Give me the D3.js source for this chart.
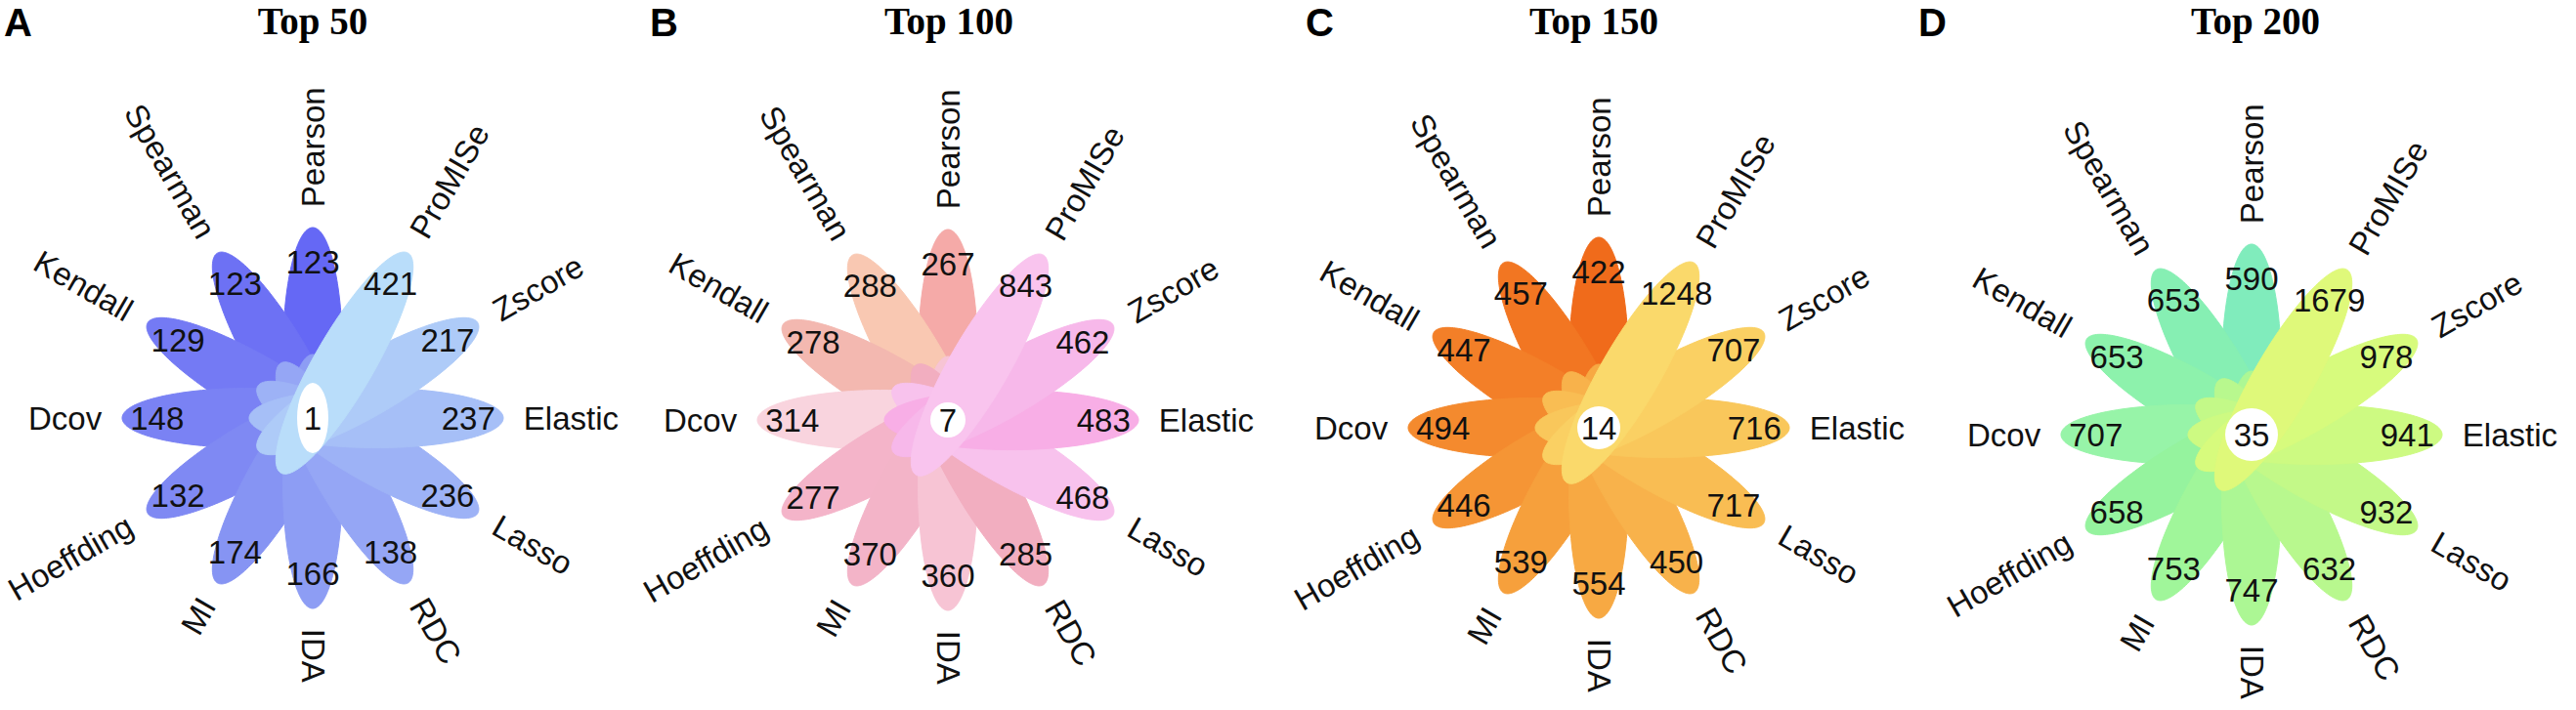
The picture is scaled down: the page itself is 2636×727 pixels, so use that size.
<!DOCTYPE html>
<html>
<head>
<meta charset="utf-8">
<script src="https://cdn.jsdelivr.net/npm/d3@7"></script>
<style>
  body { margin: 0; background: #fff; }
  svg { display: block; }
</style>
</head>
<body>
<script>
// methods, counter-clockwise starting at the top (drawing order)
const methods = ["Pearson", "Spearman", "Kendall", "Dcov", "Hoeffding", "MI",
                 "IDA", "RDC", "Lasso", "Elastic", "Zscore", "ProMISe"];

const panelTitles = ["Top 50", "Top 100", "Top 150", "Top 200"];
const panelLetters = ["A", "B", "C", "D"];

// unique counts per method
const top50  = [123, 123, 129, 148, 132, 174, 166, 138, 236, 237, 217, 421];
const top100 = [267, 288, 278, 314, 277, 370, 360, 285, 468, 483, 462, 843];
const top150 = [422, 457, 447, 494, 446, 539, 554, 450, 717, 716, 707, 1248];
const top200 = [590, 653, 653, 707, 658, 753, 747, 632, 932, 941, 978, 1679];

// shared by all methods
const coreCounts = [1, 7, 14, 35];

// petal colours
const bluePal   = ["#6568f5", "#6d71f4", "#747af4", "#7a82f4", "#7f89f3", "#8694f3",
                   "#8d9df4", "#95a6f5", "#9db2f6", "#a6bff7", "#aecbf8", "#b9ddfa"];
const pinkPal   = ["#f5aaa8", "#f9c8b2", "#f3b8b0", "#f9d4de", "#f4b4c9", "#f3b4c8",
                   "#f7c4d4", "#f2aec0", "#f8c2ed", "#f8aee6", "#f7b8ea", "#f9c4ee"];
const orangePal = ["#f06b1b", "#f27622", "#f37f28", "#f48a2e", "#f59535", "#f6a03c",
                   "#f7a943", "#f8b24b", "#f9bd53", "#f9c75b", "#fad063", "#fad96b"];
const greenPal  = ["#80ecbc", "#86efb3", "#8df2ac", "#97f4a8", "#95f39e", "#a0f69a",
                   "#acf794", "#b8f88e", "#c3f988", "#cdfa82", "#d7fb7d", "#dff97a"];

const counts = [top50, top100, top150, top200];
const palettes = [bluePal, pinkPal, orangePal, greenPal];

// layout of the four flowers
const layout = [
  { cx: 320,  cy: 428, titleX: 320,  letterX: 4,    coreRx: 16, coreRy: 36 },
  { cx: 970,  cy: 430, titleX: 971,  letterX: 665,  coreRx: 18, coreRy: 18 },
  { cx: 1636, cy: 438, titleX: 1631, letterX: 1336, coreRx: 22, coreRy: 22 },
  { cx: 2304, cy: 445, titleX: 2308, letterX: 1963, coreRx: 27, coreRy: 27 }
];

const W = 2636, H = 727;
const unit = 65;          // one plot unit in px
const petalA = 2, petalB = 0.47, petalOffset = 1;
const numR = 2.45, labR = 3.32;
const fontSans = "'Liberation Sans', Arial, sans-serif";

const svg = d3.select("body").append("svg")
  .attr("width", W).attr("height", H);

layout.forEach((p, k) => {
  const x = d3.scaleLinear().domain([-1, 1]).range([p.cx - unit, p.cx + unit]);
  const y = d3.scaleLinear().domain([-1, 1]).range([p.cy + unit, p.cy - unit]);
  const g = svg.append("g");

  const data = methods.map((m, i) => ({
    name: m, value: counts[k][i], color: palettes[k][i],
    ang: (90 + 30 * i) * Math.PI / 180
  }));

  const line = d3.line().x(d => x(d[0])).y(d => y(d[1])).curve(d3.curveLinearClosed);
  const petal = d => {
    const pts = d3.range(0, 2 * Math.PI, Math.PI / 90).map(t => {
      const lx = petalA * Math.cos(t), ly = petalB * Math.sin(t);
      return [petalOffset * Math.cos(d.ang) + lx * Math.cos(d.ang) - ly * Math.sin(d.ang),
              petalOffset * Math.sin(d.ang) + lx * Math.sin(d.ang) + ly * Math.cos(d.ang)];
    });
    return line(pts);
  };

  g.selectAll("path.petal").data(data).enter().append("path")
    .attr("class", "petal")
    .attr("d", petal)
    .attr("fill", d => d.color)
    .attr("stroke", d => d.color)
    .attr("stroke-width", 1);

  // counts
  g.selectAll("text.num").data(data).enter().append("text")
    .attr("class", "num")
    .attr("x", d => x(numR * Math.cos(d.ang)))
    .attr("y", d => y(numR * Math.sin(d.ang)))
    .attr("text-anchor", "middle")
    .attr("dominant-baseline", "central")
    .style("font-family", fontSans)
    .style("font-size", "33px")
    .attr("fill", "#111")
    .text(d => d.value);

  // method names
  g.selectAll("text.lab").data(data).enter().append("text")
    .attr("class", "lab")
    .attr("transform", d => {
      const deg = d.ang * 180 / Math.PI;
      const right = Math.cos(d.ang) > -1e-6;
      const rot = right ? -deg : 180 - deg;
      return `translate(${x(labR * Math.cos(d.ang))},${y(labR * Math.sin(d.ang))}) rotate(${rot})`;
    })
    .attr("text-anchor", d => Math.cos(d.ang) > -1e-6 ? "start" : "end")
    .attr("dominant-baseline", "central")
    .style("font-family", fontSans)
    .style("font-size", "33px")
    .attr("fill", "#111")
    .text(d => d.name);

  // core
  g.append("ellipse")
    .attr("cx", x(0)).attr("cy", y(0))
    .attr("rx", p.coreRx).attr("ry", p.coreRy)
    .attr("fill", "#fff");
  g.append("text")
    .attr("x", x(0)).attr("y", y(0))
    .attr("text-anchor", "middle")
    .attr("dominant-baseline", "central")
    .style("font-family", fontSans)
    .style("font-size", "33px")
    .attr("fill", "#111")
    .text(coreCounts[k]);

  // title and panel letter
  svg.append("text")
    .attr("x", p.titleX).attr("y", 35)
    .attr("text-anchor", "middle")
    .style("font-family", "'Liberation Serif', 'Times New Roman', serif")
    .style("font-weight", "bold")
    .style("font-size", "39px")
    .text(panelTitles[k]);
  svg.append("text")
    .attr("x", p.letterX).attr("y", 37)
    .style("font-family", fontSans)
    .style("font-weight", "bold")
    .style("font-size", "40px")
    .text(panelLetters[k]);
});
</script>
</body>
</html>
